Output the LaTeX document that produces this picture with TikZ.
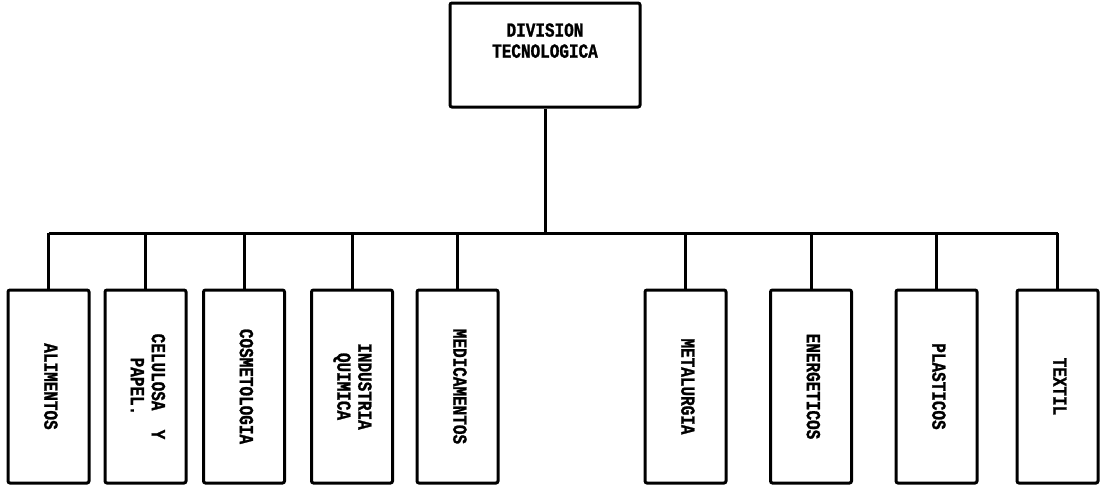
\documentclass[tikz,border=0pt]{standalone}
\usepackage{fontspec}
\newfontfamily\orgfont[FakeStretch=0.8, FakeBold=1.2]{Liberation Mono}
\usetikzlibrary{positioning}
\tikzstyle{head} = [rectangle, draw, line width=3pt, rounded corners=2pt, minimum width=190pt, minimum height=104pt, align=center, font=\orgfont\bfseries\fontsize{20}{21}\selectfont]
\tikzstyle{area} = [rectangle, draw, line width=3pt, rounded corners=2pt, minimum width=81pt, minimum height=193pt, inner sep=0pt, font=\orgfont\bfseries\fontsize{20}{21}\selectfont]
\tikzstyle{link} = [line width=3pt]
\newcommand{\sidetext}[1]{\rotatebox{-90}{\begin{tabular}{@{}c@{}}#1\end{tabular}}}

\begin{document}
\begin{tikzpicture}[x=1pt, y=-1pt]
                \useasboundingbox (0,0) rectangle (1101,485);
                % head of the division
                \node[head] (div) at (545,55) {DIVISION\\TECNOLOGICA\\[8pt]};
                \coordinate (bus) at (545,233);
                % the areas below it
                \node[area] (alim) at (48.5,386.5) {\sidetext{ALIMENTOS}};
                \node[area] (celu) at (145.5,386.5) {\sidetext{CELULOSA\ \ Y\\PAPEL.}};
                \node[area] (cosm) at (244,386.5) {\sidetext{COSMETOLOGIA}};
                \node[area] (indu) at (352,386.5) {\sidetext{INDUSTRIA\\QUIMICA}};
                \node[area] (medi) at (457.5,386.5) {\sidetext{MEDICAMENTOS}};
                \node[area] (meta) at (685.5,386.5) {\sidetext{METALURGIA}};
                \node[area] (ener) at (811,386.5) {\sidetext{ENERGETICOS}};
                \node[area] (plas) at (936.5,386.5) {\sidetext{PLASTICOS}};
                \node[area] (text) at (1057.5,386.5) {\sidetext{TEXTIL}};
                % connectors
                \draw[link] (div.south) -- (bus);
                \draw[link] (bus -| alim.north) -- (bus -| text.north);
                \foreach \n in {alim, celu, cosm, indu, medi, meta, ener, plas, text}
                    \draw[link] (bus -| \n.north) -- (\n.north);
            \end{tikzpicture}
\end{document}
